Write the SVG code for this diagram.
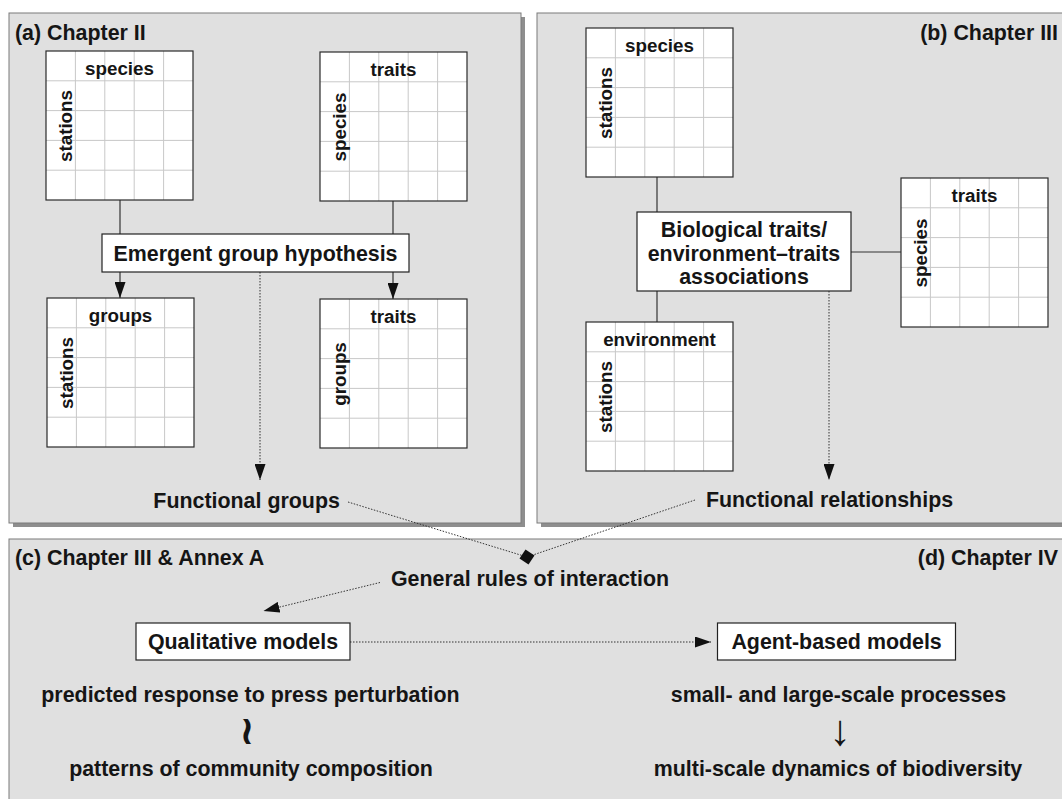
<svg xmlns="http://www.w3.org/2000/svg" xmlns:xlink="http://www.w3.org/1999/xlink" width="1062" height="799" viewBox="0 0 1062 799">
<style>
text{font-family:"Liberation Sans",Arial,Helvetica,sans-serif;font-weight:bold;fill:#151515}
.big{font-size:21.4px}
.lab{font-size:18.8px}
.mid{text-anchor:middle}
.end{text-anchor:end}
.panel{fill:#e0e0e0;stroke:#7a7a7a;stroke-width:1}
.shadow{fill:#8e8e8e}
.box{fill:#fff;stroke:#222;stroke-width:1.2}
.solid{fill:none;stroke:#333;stroke-width:1.2}
.dot{fill:none;stroke:#333;stroke-width:1;stroke-dasharray:1.5 1.5}
.grid{stroke:#c8c8c8;stroke-width:1}
</style>
<defs>
<marker id="arr" markerUnits="userSpaceOnUse" markerWidth="16" markerHeight="11" refX="16" refY="5.5" orient="auto">
<path d="M0,0 L16,5.5 L0,11 z" fill="#111"/>
</marker>
<g id="mx">
<rect width="147" height="149" fill="#fff"/>
<path class="grid" d="M29.4,0V149M58.8,0V149M88.2,0V149M117.6,0V149M0,29.8H147M0,59.6H147M0,89.4H147M0,119.2H147"/>
<rect width="147" height="149" fill="none" stroke="#2a2a2a" stroke-width="1.2"/>
</g>
</defs>
<rect width="1062" height="799" fill="#fff"/>

<g id="panel-a">
<rect class="shadow" x="13" y="17" width="512" height="510"/>
<rect class="panel" x="9" y="13" width="512" height="510"/>
<text class="big" x="15" y="39.5">(a) Chapter II</text>
</g>
<g id="panel-b">
<rect class="shadow" x="541" y="17" width="540" height="510"/>
<rect class="panel" x="537" y="13" width="540" height="510"/>
<text class="big end" x="1058" y="40">(b) Chapter III</text>
</g>
<g id="panel-cd">
<rect class="panel" x="9" y="539" width="1070" height="280"/>
<text class="big" x="15" y="565">(c) Chapter III &amp; Annex A</text>
<text class="big end" x="1058" y="565">(d) Chapter IV</text>
</g>

<g id="connectors">
<path class="solid" d="M120,200V234"/>
<path class="solid" d="M393,201V234"/>
<path class="solid" d="M120,272V298" marker-end="url(#arr)"/>
<path class="solid" d="M393,272V299" marker-end="url(#arr)"/>
<path class="dot" d="M260,272V480" marker-end="url(#arr)"/>
<path class="solid" d="M657,177V212"/>
<path class="solid" d="M851,252H901"/>
<path class="solid" d="M657,291V322"/>
<path class="dot" d="M829,291V480" marker-end="url(#arr)"/>
<path class="dot" d="M348,502L527,557"/>
<path class="dot" d="M695,500L527,557"/>
<polygon points="525.5,549.5 534.5,555.5 528.5,564.5 519.5,558.5" fill="#111"/>
<path class="dot" d="M380,582.5L263.5,611" marker-end="url(#arr)"/>
<path class="dot" d="M350,642H711" marker-end="url(#arr)"/>
</g>

<g id="m-a-species">
<use xlink:href="#mx" x="46" y="51"/>
<text class="lab mid" x="119.5" y="75">species</text>
<text class="lab mid" transform="translate(71.5,126) rotate(-90)">stations</text>
</g>
<g id="m-a-traits">
<use xlink:href="#mx" x="320" y="52"/>
<text class="lab mid" x="393.5" y="76">traits</text>
<text class="lab mid" transform="translate(345.5,127) rotate(-90)">species</text>
</g>
<g id="n-emergent">
<rect class="box" x="102" y="234" width="307" height="38"/>
<text class="big mid" x="255.5" y="261">Emergent group hypothesis</text>
</g>
<g id="m-a-groups">
<use xlink:href="#mx" x="47" y="298"/>
<text class="lab mid" x="120.5" y="322">groups</text>
<text class="lab mid" transform="translate(72.5,373) rotate(-90)">stations</text>
</g>
<g id="m-a-traits-groups">
<use xlink:href="#mx" x="320" y="299"/>
<text class="lab mid" x="393.5" y="323">traits</text>
<text class="lab mid" transform="translate(345.5,374) rotate(-90)">groups</text>
</g>
<g id="n-functional-groups">
<text class="big mid" x="246.6" y="507.5">Functional groups</text>
</g>

<g id="m-b-species">
<use xlink:href="#mx" x="586" y="28"/>
<text class="lab mid" x="659.5" y="52">species</text>
<text class="lab mid" transform="translate(611.5,103) rotate(-90)">stations</text>
</g>
<g id="n-biological">
<rect class="box" x="637" y="212" width="214" height="79"/>
<text class="big mid" x="744" y="236.5">Biological traits/</text>
<text class="big mid" x="744" y="260.5">environment–traits</text>
<text class="big mid" x="744" y="284">associations</text>
</g>
<g id="m-b-traits">
<use xlink:href="#mx" x="901" y="178"/>
<text class="lab mid" x="974.5" y="202">traits</text>
<text class="lab mid" transform="translate(926.5,253) rotate(-90)">species</text>
</g>
<g id="m-b-environment">
<use xlink:href="#mx" x="586" y="322"/>
<text class="lab mid" x="659.5" y="346">environment</text>
<text class="lab mid" transform="translate(611.5,397) rotate(-90)">stations</text>
</g>
<g id="n-functional-relationships">
<text class="big mid" x="829.5" y="507">Functional relationships</text>
</g>

<g id="n-general-rules">
<text class="big mid" x="530" y="586">General rules of interaction</text>
</g>
<g id="n-qualitative">
<rect class="box" x="136" y="623" width="214" height="37"/>
<text class="big mid" x="243" y="649">Qualitative models</text>
</g>
<g id="n-agent">
<rect class="box" x="717.5" y="623" width="238" height="37"/>
<text class="big mid" x="836.6" y="649">Agent-based models</text>
</g>
<g id="n-left-texts">
<text class="big mid" x="250.5" y="702">predicted response to press perturbation</text>
<text class="mid" x="247" y="744" style="font-family:'DejaVu Sans',sans-serif;font-size:40px">≀</text>
<text class="big mid" x="251" y="776">patterns of community composition</text>
</g>
<g id="n-right-texts">
<text class="big mid" x="838.5" y="702">small- and large-scale processes</text>
<text class="mid" x="840" y="745" style="font-weight:normal;font-size:43px">↓</text>
<text class="big mid" x="838" y="776">multi-scale dynamics of biodiversity</text>
</g>
</svg>
